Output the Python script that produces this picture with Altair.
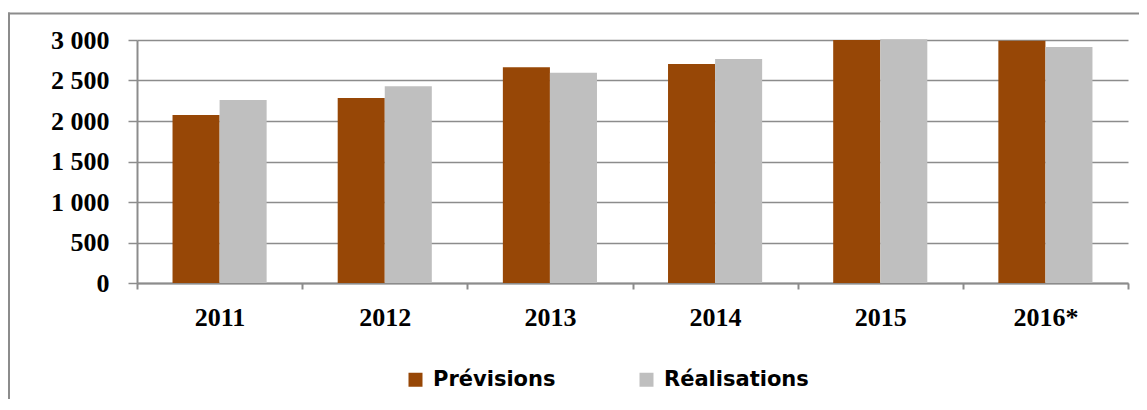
import altair as alt
import pandas as pd

years = ["2011", "2012", "2013", "2014", "2015", "2016*"]
previsions = [2075, 2285, 2665, 2705, 3000, 2990]
realisations = [2260, 2430, 2595, 2765, 3010, 2915]
series = ["Prévisions", "Réalisations"]
colors = ["#974706", "#BFBFBF"]
y_ticks = [0, 500, 1000, 1500, 2000, 2500, 3000]

rows = []
for i, yr in enumerate(years):
    rows.append({"annee": yr, "serie": series[0], "valeur": previsions[i]})
    rows.append({"annee": yr, "serie": series[1], "valeur": realisations[i]})
df = pd.DataFrame(rows)

GRID = "#8c8c8c"
one = pd.DataFrame({"k": [0]})

frame_top = alt.Chart(one).mark_rule(color=GRID, strokeWidth=2).encode(
    x=alt.value(-129), x2=alt.value(1100), y=alt.value(-26.5)
)
frame_left = alt.Chart(one).mark_rule(color=GRID, strokeWidth=2).encode(
    x=alt.value(-128), y=alt.value(-27.5), y2=alt.value(500)
)

bars = alt.Chart(df).mark_bar(clip=False).encode(
    x=alt.X("annee:N", sort=years,
            scale=alt.Scale(paddingInner=0, paddingOuter=0),
            axis=alt.Axis(title=None, labelAngle=0, tickBand="extent",
                          tickSize=6, tickWidth=2, tickColor=GRID,
                          domainColor=GRID, domainWidth=2,
                          labelPadding=15, grid=False)),
    xOffset=alt.XOffset("serie:N", sort=series,
                        scale=alt.Scale(paddingInner=0, paddingOuter=0.755)),
    y=alt.Y("valeur:Q",
            scale=alt.Scale(domain=[0, 3000], nice=False),
            axis=alt.Axis(title=None, values=y_ticks,
                          labelExpr="replace(format(datum.value, ','), ',', ' ')",
                          tickSize=9, tickWidth=1.5, tickColor=GRID,
                          domainColor=GRID, domainWidth=2,
                          grid=True, gridColor=GRID, gridWidth=1.5,
                          labelPadding=19)),
    color=alt.Color("serie:N", sort=series,
                    scale=alt.Scale(domain=series, range=colors),
                    legend=alt.Legend(title=None, orient="none", legendX=268, legendY=329,
                                      direction="horizontal", symbolType="square",
                                      symbolSize=196, symbolStrokeWidth=0,
                                      labelFont="DejaVu Sans", labelFontWeight="bold",
                                      labelFontSize=21, labelColor="black",
                                      labelOffset=7, columnPadding=80)),
)

chart = alt.layer(frame_top, frame_left, bars).properties(
    width=991, height=243,
    padding={"left": 129, "top": 32, "right": 11, "bottom": 116},
    autosize=alt.AutoSizeParams(type="none"),
).configure_axis(
    labelFont="Liberation Serif", labelFontWeight="bold", labelFontSize=26,
    labelColor="black",
).configure_view(stroke=None)

chart.save("out.html", embed_options={"renderer": "svg", "actions": False})
